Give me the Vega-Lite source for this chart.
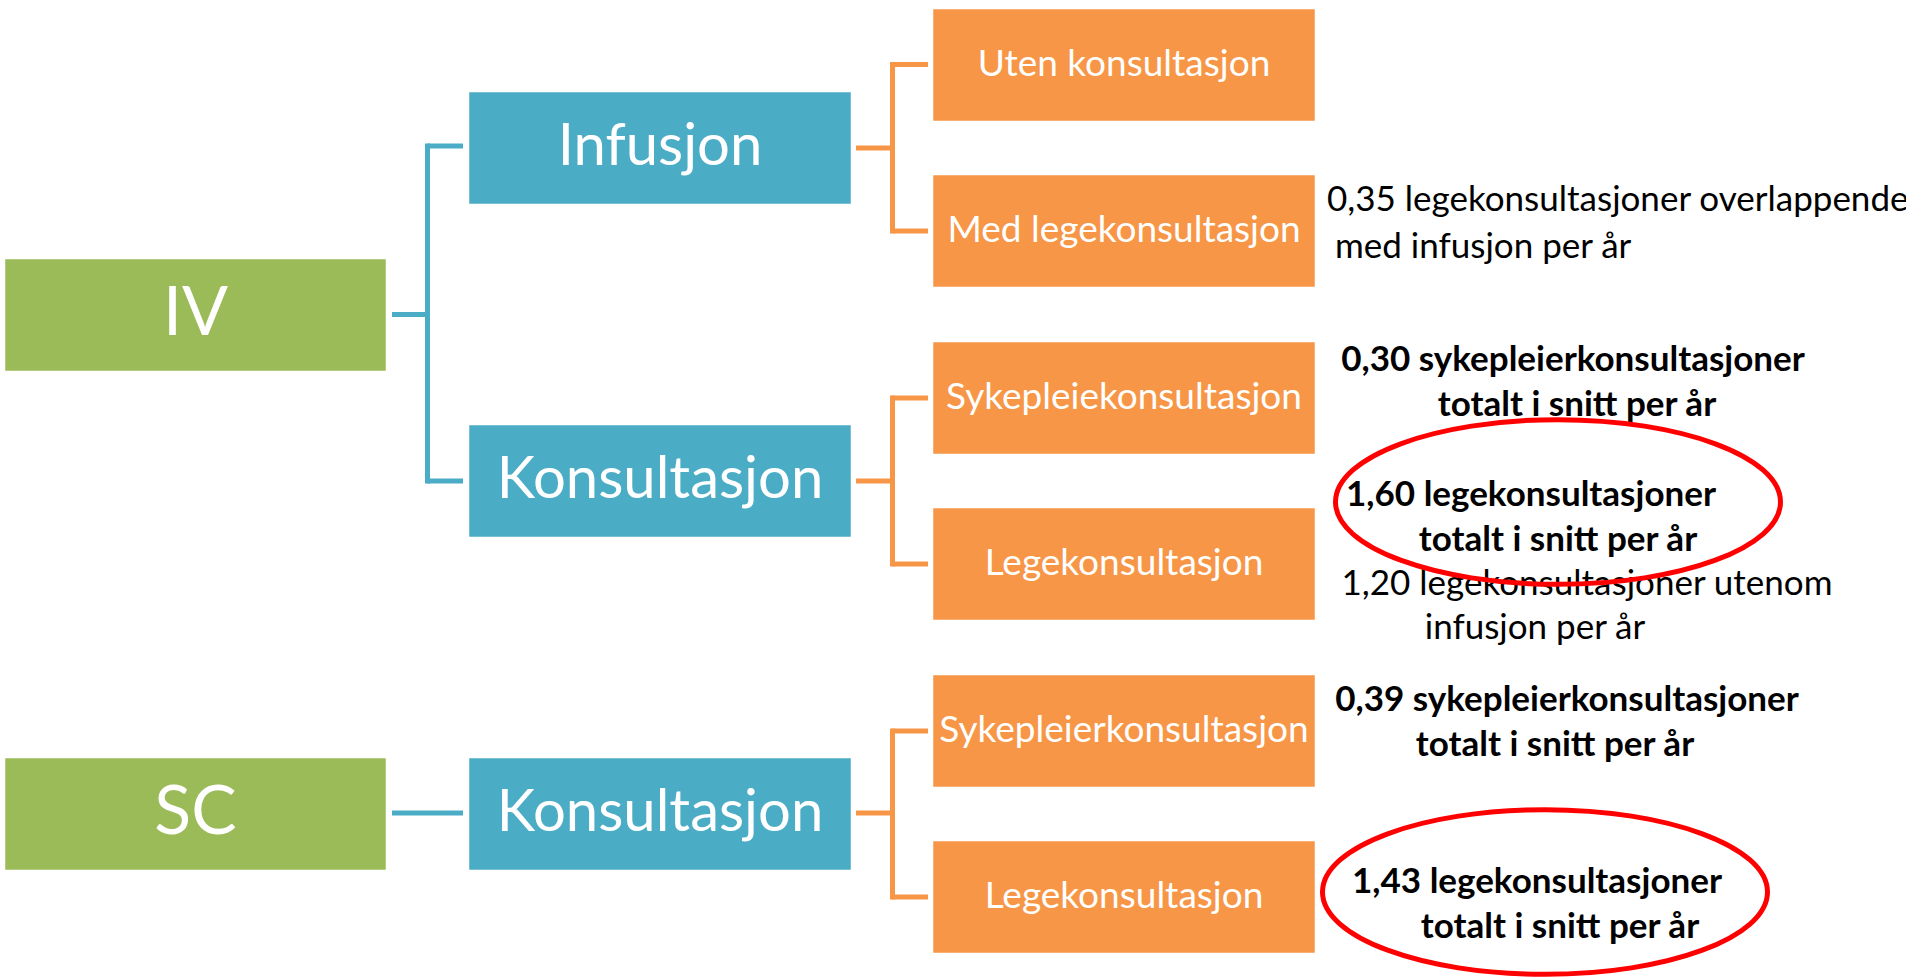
{
  "$schema": "https://vega.github.io/schema/vega-lite/v6.json",
  "width": 1906,
  "height": 977,
  "padding": 0,
  "autosize": {"type": "none"},
  "background": "white",
  "config": {"view": {"stroke": null}},
  "datasets": {
    "boxes": [
      {"label": "IV", "level": "rot", "x1": 5, "x2": 386, "y1": 259, "y2": 371, "cx": 195.5, "cy": 315},
      {"label": "SC", "level": "rot", "x1": 5, "x2": 386, "y1": 758, "y2": 870, "cx": 195.5, "cy": 814},
      {"label": "Infusjon", "level": "midt", "x1": 469, "x2": 851, "y1": 92, "y2": 204, "cx": 660, "cy": 148},
      {"label": "Konsultasjon", "level": "midt", "x1": 469, "x2": 851, "y1": 425, "y2": 537, "cx": 660, "cy": 481},
      {"label": "Konsultasjon", "level": "midt", "x1": 469, "x2": 851, "y1": 758, "y2": 870, "cx": 660, "cy": 814},
      {"label": "Uten konsultasjon", "level": "blad", "x1": 933, "x2": 1315, "y1": 9, "y2": 121, "cx": 1124, "cy": 65},
      {"label": "Med legekonsultasjon", "level": "blad", "x1": 933, "x2": 1315, "y1": 175, "y2": 287, "cx": 1124, "cy": 231},
      {"label": "Sykepleiekonsultasjon", "level": "blad", "x1": 933, "x2": 1315, "y1": 342, "y2": 454, "cx": 1124, "cy": 398},
      {"label": "Legekonsultasjon", "level": "blad", "x1": 933, "x2": 1315, "y1": 508, "y2": 620, "cx": 1124, "cy": 564},
      {"label": "Sykepleierkonsultasjon", "level": "blad", "x1": 933, "x2": 1315, "y1": 675, "y2": 787, "cx": 1124, "cy": 731},
      {"label": "Legekonsultasjon", "level": "blad", "x1": 933, "x2": 1315, "y1": 841, "y2": 953, "cx": 1124, "cy": 897}
    ],
    "links": [
      {"level": "midt", "xa": 392, "xb": 427.5, "ya": 314.5, "yb": 314.5},
      {"level": "midt", "xa": 427.5, "xb": 427.5, "ya": 143.5, "yb": 483.5},
      {"level": "midt", "xa": 427.5, "xb": 463, "ya": 146, "yb": 146},
      {"level": "midt", "xa": 427.5, "xb": 463, "ya": 481, "yb": 481},
      {"level": "midt", "xa": 392, "xb": 463, "ya": 813, "yb": 813},
      {"level": "blad", "xa": 856, "xb": 892.5, "ya": 148, "yb": 148},
      {"level": "blad", "xa": 892.5, "xb": 892.5, "ya": 62, "yb": 233.5},
      {"level": "blad", "xa": 892.5, "xb": 928, "ya": 64.5, "yb": 64.5},
      {"level": "blad", "xa": 892.5, "xb": 928, "ya": 231, "yb": 231},
      {"level": "blad", "xa": 856, "xb": 892.5, "ya": 481, "yb": 481},
      {"level": "blad", "xa": 892.5, "xb": 892.5, "ya": 395.5, "yb": 566.5},
      {"level": "blad", "xa": 892.5, "xb": 928, "ya": 398, "yb": 398},
      {"level": "blad", "xa": 892.5, "xb": 928, "ya": 564, "yb": 564},
      {"level": "blad", "xa": 856, "xb": 892.5, "ya": 813, "yb": 813},
      {"level": "blad", "xa": 892.5, "xb": 892.5, "ya": 728.5, "yb": 899.5},
      {"level": "blad", "xa": 892.5, "xb": 928, "ya": 731, "yb": 731},
      {"level": "blad", "xa": 892.5, "xb": 928, "ya": 897, "yb": 897}
    ],
    "notes": [
      {"text": "0,35 legekonsultasjoner overlappende", "style": "plain-left", "x": 1327, "y": 200},
      {"text": "med infusjon per år", "style": "plain-left", "x": 1335, "y": 247},
      {"text": "0,30 sykepleierkonsultasjoner", "style": "bold", "x": 1573, "y": 360},
      {"text": "totalt i snitt  per år", "style": "bold", "x": 1577, "y": 405},
      {"text": "1,60  legekonsultasjoner", "style": "bold", "x": 1531, "y": 495},
      {"text": "totalt i snitt per år", "style": "bold", "x": 1558, "y": 540},
      {"text": "1,20 legekonsultasjoner utenom", "style": "plain", "x": 1587, "y": 584},
      {"text": "infusjon per år", "style": "plain", "x": 1535, "y": 628},
      {"text": "0,39 sykepleierkonsultasjoner", "style": "bold", "x": 1567, "y": 700},
      {"text": "totalt i snitt  per år", "style": "bold", "x": 1555, "y": 745},
      {"text": "1,43  legekonsultasjoner", "style": "bold", "x": 1537, "y": 882},
      {"text": "totalt i snitt  per år", "style": "bold", "x": 1560, "y": 927}
    ],
    "rings": [
      {"name": "IV lege", "x": 1558, "y": 502},
      {"name": "SC lege", "x": 1545, "y": 892}
    ]
  },
  "layer": [
    {
      "data": {"name": "links"},
      "mark": {"type": "rule", "strokeWidth": 5, "strokeCap": "butt"},
      "encoding": {
        "x": {"field": "xa", "type": "quantitative", "scale": {"domain": [0, 1906], "nice": false, "zero": false}, "axis": null},
        "x2": {"field": "xb"},
        "y": {"field": "ya", "type": "quantitative", "scale": {"domain": [0, 977], "nice": false, "zero": false, "reverse": true}, "axis": null},
        "y2": {"field": "yb"},
        "color": {"field": "level", "type": "nominal", "scale": {"domain": ["rot", "midt", "blad"], "range": ["#9BBB59", "#4BACC6", "#F79646"]}, "legend": null}
      }
    },
    {
      "data": {"name": "boxes"},
      "mark": {"type": "rect", "stroke": "#ffffff", "strokeWidth": 1, "strokeOpacity": 0.5},
      "encoding": {
        "x": {"field": "x1", "type": "quantitative", "scale": {"domain": [0, 1906], "nice": false, "zero": false}, "axis": null},
        "x2": {"field": "x2"},
        "y": {"field": "y1", "type": "quantitative", "scale": {"domain": [0, 977], "nice": false, "zero": false, "reverse": true}, "axis": null},
        "y2": {"field": "y2"},
        "color": {"field": "level", "type": "nominal", "scale": {"domain": ["rot", "midt", "blad"], "range": ["#9BBB59", "#4BACC6", "#F79646"]}, "legend": null}
      }
    },
    {
      "data": {"name": "boxes"},
      "transform": [{"filter": "datum.level === 'rot'"}],
      "mark": {"type": "text", "font": "Lato", "fontWeight": 400, "fontSize": 68, "color": "#ffffff", "align": "center", "baseline": "middle"},
      "encoding": {
        "x": {"field": "cx", "type": "quantitative", "scale": {"domain": [0, 1906], "nice": false, "zero": false}, "axis": null},
        "y": {"field": "cy", "type": "quantitative", "scale": {"domain": [0, 977], "nice": false, "zero": false, "reverse": true}, "axis": null},
        "text": {"field": "label"}
      }
    },
    {
      "data": {"name": "boxes"},
      "transform": [{"filter": "datum.level === 'midt'"}],
      "mark": {"type": "text", "font": "Lato", "fontWeight": 400, "fontSize": 58, "color": "#ffffff", "align": "center", "baseline": "middle"},
      "encoding": {
        "x": {"field": "cx", "type": "quantitative", "scale": {"domain": [0, 1906], "nice": false, "zero": false}, "axis": null},
        "y": {"field": "cy", "type": "quantitative", "scale": {"domain": [0, 977], "nice": false, "zero": false, "reverse": true}, "axis": null},
        "text": {"field": "label"}
      }
    },
    {
      "data": {"name": "boxes"},
      "transform": [{"filter": "datum.level === 'blad'"}],
      "mark": {"type": "text", "font": "Lato", "fontWeight": 400, "fontSize": 37, "color": "#ffffff", "align": "center", "baseline": "middle"},
      "encoding": {
        "x": {"field": "cx", "type": "quantitative", "scale": {"domain": [0, 1906], "nice": false, "zero": false}, "axis": null},
        "y": {"field": "cy", "type": "quantitative", "scale": {"domain": [0, 977], "nice": false, "zero": false, "reverse": true}, "axis": null},
        "text": {"field": "label"}
      }
    },
    {
      "data": {"name": "notes"},
      "transform": [{"filter": "datum.style === 'plain-left'"}],
      "mark": {"type": "text", "font": "Lato", "fontSize": 35, "color": "#000000", "align": "left", "baseline": "middle"},
      "encoding": {
        "x": {"field": "x", "type": "quantitative", "scale": {"domain": [0, 1906], "nice": false, "zero": false}, "axis": null},
        "y": {"field": "y", "type": "quantitative", "scale": {"domain": [0, 977], "nice": false, "zero": false, "reverse": true}, "axis": null},
        "text": {"field": "text"}
      }
    },
    {
      "data": {"name": "notes"},
      "transform": [{"filter": "datum.style === 'plain'"}],
      "mark": {"type": "text", "font": "Lato", "fontSize": 35, "color": "#000000", "align": "center", "baseline": "middle"},
      "encoding": {
        "x": {"field": "x", "type": "quantitative", "scale": {"domain": [0, 1906], "nice": false, "zero": false}, "axis": null},
        "y": {"field": "y", "type": "quantitative", "scale": {"domain": [0, 977], "nice": false, "zero": false, "reverse": true}, "axis": null},
        "text": {"field": "text"}
      }
    },
    {
      "data": {"name": "notes"},
      "transform": [{"filter": "datum.style === 'bold'"}],
      "mark": {"type": "text", "font": "Lato", "fontWeight": "bold", "fontSize": 35, "color": "#000000", "align": "center", "baseline": "middle"},
      "encoding": {
        "x": {"field": "x", "type": "quantitative", "scale": {"domain": [0, 1906], "nice": false, "zero": false}, "axis": null},
        "y": {"field": "y", "type": "quantitative", "scale": {"domain": [0, 977], "nice": false, "zero": false, "reverse": true}, "axis": null},
        "text": {"field": "text"}
      }
    },
    {
      "data": {"name": "rings"},
      "mark": {
        "type": "point",
        "shape": "M-1,0 C-1,-0.2043 -0.5523,-0.37 0,-0.37 C0.5523,-0.37 1,-0.2043 1,0 C1,0.2043 0.5523,0.37 0,0.37 C-0.5523,0.37 -1,0.2043 -1,0 Z",
        "size": 198025,
        "filled": false,
        "stroke": "#FF0000",
        "strokeWidth": 5,
        "opacity": 1
      },
      "encoding": {
        "x": {"field": "x", "type": "quantitative", "scale": {"domain": [0, 1906], "nice": false, "zero": false}, "axis": null},
        "y": {"field": "y", "type": "quantitative", "scale": {"domain": [0, 977], "nice": false, "zero": false, "reverse": true}, "axis": null}
      }
    }
  ]
}
